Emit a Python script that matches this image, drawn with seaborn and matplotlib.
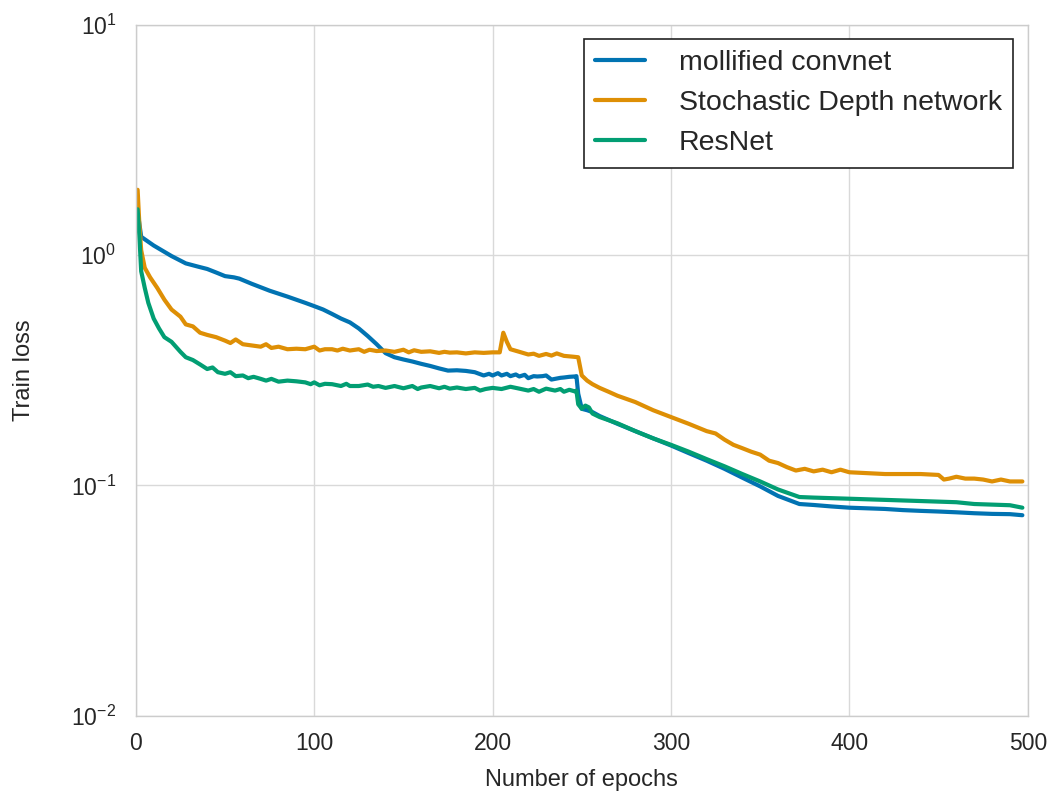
import matplotlib
matplotlib.use("Agg")
import matplotlib.pyplot as plt
import seaborn as sns
import pandas as pd

# ---- data ----
moll_x = [1, 3, 10, 20, 28, 35, 40, 45, 50, 55, 58, 65, 75, 85, 95, 100, 105, 110, 115, 120,
          125, 130, 135, 140, 145, 150, 155, 160, 165, 170, 175, 180, 185, 190, 195, 198, 200,
          203, 205, 208, 210, 213, 215, 218, 220, 223, 225, 228, 230, 233, 235, 238, 240, 243,
          246, 247, 248, 250, 253, 256, 260, 270, 280, 290, 300, 310, 320, 330, 340, 350, 360,
          372, 380, 390, 400, 410, 420, 430, 440, 450, 460, 470, 480, 490, 497]
moll_y = [1.55, 1.20, 1.10, 0.99, 0.92, 0.89, 0.87, 0.84, 0.81, 0.80, 0.79, 0.75, 0.70, 0.66,
          0.62, 0.60, 0.58, 0.555, 0.53, 0.51, 0.48, 0.445, 0.41, 0.375, 0.36, 0.352, 0.345,
          0.337, 0.33, 0.322, 0.315, 0.316, 0.314, 0.31, 0.30, 0.305, 0.300, 0.307, 0.300,
          0.305, 0.298, 0.303, 0.297, 0.302, 0.292, 0.298, 0.297, 0.298, 0.300, 0.288, 0.290,
          0.293, 0.294, 0.296, 0.297, 0.298, 0.25, 0.215, 0.212, 0.208, 0.200, 0.185, 0.172,
          0.160, 0.149, 0.138, 0.128, 0.118, 0.108, 0.099, 0.090, 0.083, 0.0822, 0.0810,
          0.0800, 0.0795, 0.0790, 0.0781, 0.0775, 0.0770, 0.0764, 0.0757, 0.0752, 0.0750,
          0.0742]

sd_x = [1, 2, 3, 5, 8, 12, 16, 20, 25, 28, 32, 36, 40, 45, 50, 53, 56, 60, 65, 70, 73, 76, 80,
        85, 90, 95, 100, 103, 106, 110, 113, 116, 120, 125, 128, 131, 135, 140, 145, 150, 153,
        156, 160, 165, 170, 173, 176, 180, 185, 190, 195, 200, 204, 206, 208, 210, 215, 220,
        223, 226, 230, 233, 236, 240, 245, 248, 250, 253, 256, 260, 265, 270, 280, 290, 300,
        310, 320, 325, 330, 335, 340, 345, 350, 355, 360, 365, 370, 375, 380, 385, 390, 395,
        400, 410, 420, 430, 440, 450, 453, 456, 460, 465, 470, 475, 480, 485, 490, 497]
sd_y = [1.92, 1.35, 1.05, 0.88, 0.80, 0.72, 0.64, 0.58, 0.54, 0.50, 0.49, 0.46, 0.45, 0.44,
        0.425, 0.415, 0.43, 0.41, 0.405, 0.40, 0.41, 0.395, 0.40, 0.39, 0.392, 0.39, 0.40,
        0.385, 0.39, 0.39, 0.385, 0.392, 0.385, 0.39, 0.38, 0.388, 0.383, 0.385, 0.38, 0.388,
        0.378, 0.386, 0.38, 0.382, 0.376, 0.38, 0.377, 0.378, 0.374, 0.378, 0.376, 0.378,
        0.378, 0.46, 0.42, 0.39, 0.38, 0.37, 0.373, 0.365, 0.372, 0.366, 0.374, 0.365, 0.362,
        0.36, 0.30, 0.285, 0.275, 0.265, 0.255, 0.245, 0.23, 0.212, 0.198, 0.185, 0.172,
        0.168, 0.158, 0.150, 0.145, 0.14, 0.136, 0.128, 0.125, 0.120, 0.116, 0.118, 0.115,
        0.117, 0.114, 0.117, 0.114, 0.113, 0.112, 0.112, 0.112, 0.111, 0.106, 0.107, 0.109,
        0.107, 0.107, 0.106, 0.104, 0.106, 0.104, 0.104]

res_x = [1, 2, 3, 5, 7, 10, 13, 16, 20, 25, 28, 32, 36, 40, 43, 46, 50, 53, 56, 60, 63, 66, 70,
         73, 76, 80, 85, 90, 95, 98, 100, 103, 106, 110, 115, 118, 120, 125, 130, 133, 136,
         140, 145, 150, 155, 158, 160, 165, 170, 173, 176, 180, 185, 190, 193, 196, 200, 205,
         210, 215, 220, 223, 226, 230, 235, 238, 240, 243, 246, 247, 248, 250, 252, 254, 256,
         260, 270, 280, 290, 300, 310, 320, 330, 340, 350, 360, 372, 380, 390, 400, 410, 420,
         430, 440, 450, 460, 470, 480, 490, 497]
res_y = [1.58, 1.2, 0.85, 0.72, 0.62, 0.53, 0.48, 0.44, 0.42, 0.38, 0.36, 0.35, 0.335, 0.32,
         0.325, 0.31, 0.305, 0.31, 0.298, 0.30, 0.292, 0.296, 0.29, 0.285, 0.290, 0.282,
         0.285, 0.283, 0.28, 0.275, 0.28, 0.272, 0.276, 0.275, 0.27, 0.276, 0.27, 0.27, 0.274,
         0.268, 0.27, 0.265, 0.27, 0.264, 0.27, 0.262, 0.266, 0.27, 0.264, 0.268, 0.263,
         0.266, 0.262, 0.265, 0.258, 0.262, 0.265, 0.262, 0.268, 0.263, 0.258, 0.262, 0.255,
         0.263, 0.258, 0.262, 0.255, 0.26, 0.256, 0.258, 0.225, 0.215, 0.222, 0.218, 0.205,
         0.198, 0.186, 0.172, 0.160, 0.150, 0.140, 0.130, 0.121, 0.112, 0.104, 0.096, 0.089,
         0.0885, 0.088, 0.0875, 0.087, 0.0865, 0.086, 0.0855, 0.085, 0.0845, 0.083, 0.0825,
         0.082, 0.080]

names = ["mollified convnet", "Stochastic Depth network", "ResNet"]
x_ticks = [0, 100, 200, 300, 400, 500]
y_ticks = [1e-2, 1e-1, 1e0, 1e1]

df = pd.concat([
    pd.DataFrame({"epoch": moll_x, "loss": moll_y, "model": names[0]}),
    pd.DataFrame({"epoch": sd_x, "loss": sd_y, "model": names[1]}),
    pd.DataFrame({"epoch": res_x, "loss": res_y, "model": names[2]}),
])

sns.set_theme(style="whitegrid", palette="colorblind")
plt.rcParams["font.family"] = ["Liberation Sans", "DejaVu Sans"]
plt.rcParams["mathtext.fontset"] = "custom"
plt.rcParams["mathtext.rm"] = "Liberation Sans"
plt.rcParams["mathtext.it"] = "Liberation Sans"
plt.rcParams["axes.unicode_minus"] = False

fig = plt.figure(figsize=(10.53, 7.97), dpi=100)
ax = fig.add_axes([0.129, 0.102, 0.847, 0.867])

sns.lineplot(data=df, x="epoch", y="loss", hue="model", hue_order=names,
             palette="colorblind", linewidth=3.0, ax=ax, sort=False)
for ln in ax.get_lines():
    ln.set_solid_capstyle("round")
    ln.set_solid_joinstyle("round")

ax.set_yscale("log")
ax.set_xlim(0, 500)
ax.set_ylim(1e-2, 1e1)
ax.set_xticks(x_ticks)
ax.set_yticks(y_ticks)
ax.minorticks_off()
ax.grid(True, which="major", color="#d9d9d9", linewidth=1.0)
for s in ax.spines.values():
    s.set_color("#cccccc")
    s.set_linewidth(1.0)
ax.tick_params(axis="both", labelsize=16.5, colors="#262626", length=0)
ax.tick_params(axis="x", pad=12)
ax.tick_params(axis="y", pad=14)
ax.set_xlabel("Number of epochs", fontsize=17, color="#262626", labelpad=10)
ax.set_ylabel("Train loss", fontsize=17, color="#262626", labelpad=26)

leg = ax.legend(loc="upper right", fontsize=20.5, frameon=True, fancybox=False,
                edgecolor="#222222", framealpha=1, handlelength=1.75,
                handletextpad=1.2, borderpad=0.4, labelspacing=0.49,
                borderaxespad=0.5)
leg.get_frame().set_linewidth(1.2)
for line in leg.get_lines():
    line.set_linewidth(3.0)
    line.set_solid_capstyle("round")

fig.savefig("out.png", dpi=100)
